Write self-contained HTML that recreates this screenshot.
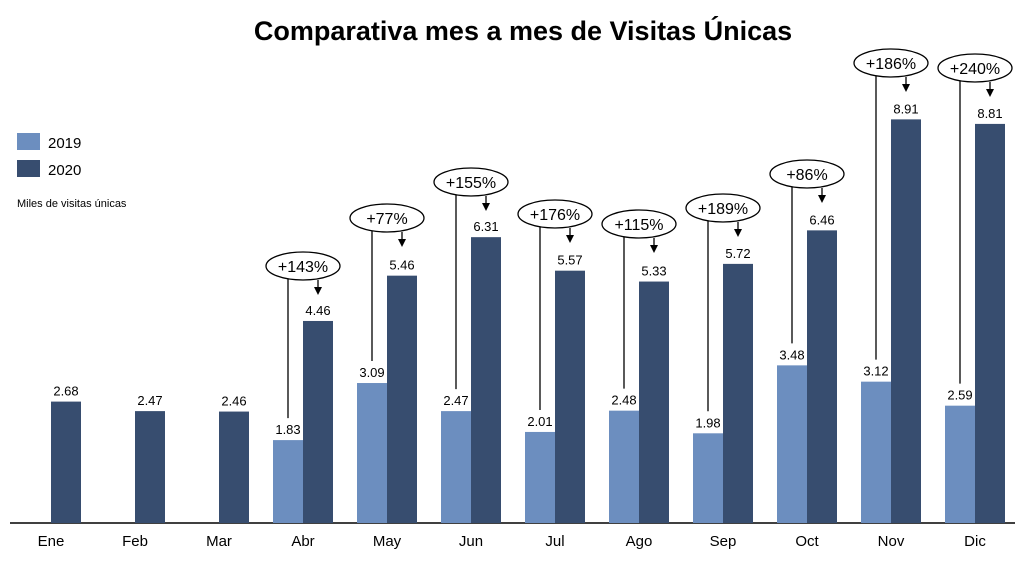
<!DOCTYPE html>
<html><head><meta charset="utf-8"><style>
body{margin:0;background:#fff;}
svg text{font-family:"Liberation Sans",sans-serif;}
</style></head><body>
<svg id="c" width="1024" height="562" xmlns="http://www.w3.org/2000/svg">
<text x="523" y="40" text-anchor="middle" font-size="27" font-weight="bold" fill="#000">Comparativa mes a mes de Visitas Únicas</text>
<rect x="17" y="133" width="23" height="17" fill="#6c8ebf"/>
<rect x="17" y="160" width="23" height="17" fill="#374d6f"/>
<text x="48" y="148" font-size="15">2019</text>
<text x="48" y="175" font-size="15">2020</text>
<text x="17" y="207" font-size="11">Miles de visitas únicas</text>
<line x1="10" y1="523" x2="1015" y2="523" stroke="#000" stroke-width="1.5"/>
<g id="g"></g>
</svg>
<script>
const m=["Ene","Feb","Mar","Abr","May","Jun","Jul","Ago","Sep","Oct","Nov","Dic"];
const a=[null,null,null,1.83,3.09,2.47,2.01,2.48,1.98,3.48,3.12,2.59];
const b=[2.68,2.47,2.46,4.46,5.46,6.31,5.57,5.33,5.72,6.46,8.91,8.81];
const p=[null,null,null,"+143%","+77%","+155%","+176%","+115%","+189%","+86%","+186%","+240%"];
const ey=[0,0,0,266,218,182,214,224,208,174,63,68];
const B=523,k=45.3;let s="";
for(let i=0;i<12;i++){
 const x=21+84*i;
 if(a[i]!==null){const h=a[i]*k;s+=`<rect x="${x}" y="${B-h}" width="30" height="${h}" fill="#6c8ebf"/>`;
 s+=`<text x="${x+15}" y="${B-h-6}" text-anchor="middle" font-size="13">${a[i].toFixed(2)}</text>`;}
 const h2=b[i]*k;s+=`<rect x="${x+30}" y="${B-h2}" width="30" height="${h2}" fill="#374d6f"/>`;
 s+=`<text x="${x+45}" y="${B-h2-6}" text-anchor="middle" font-size="13">${b[i].toFixed(2)}</text>`;
 s+=`<text x="${x+30}" y="546" text-anchor="middle" font-size="15">${m[i]}</text>`;
 if(p[i]){const cx=x+30,cy=ey[i],ax=x+45;
  s+=`<line x1="${x+15}" y1="${cy+11}" x2="${x+15}" y2="${B-a[i]*k-22}" stroke="#000" stroke-width="1.3"/>`;
  s+=`<line x1="${ax}" y1="${cy+14}" x2="${ax}" y2="${cy+22}" stroke="#000" stroke-width="1.3"/>`;
  s+=`<path d="M${ax-4},${cy+21} L${ax+4},${cy+21} L${ax},${cy+29} z" fill="#000"/>`;
  s+=`<ellipse cx="${cx}" cy="${cy}" rx="37" ry="14" fill="#fff" stroke="#000" stroke-width="1.3"/>`;
  s+=`<text x="${cx}" y="${cy+6}" text-anchor="middle" font-size="16">${p[i]}</text>`;}
}
document.getElementById("g").innerHTML=s;
</script>
</body></html>
